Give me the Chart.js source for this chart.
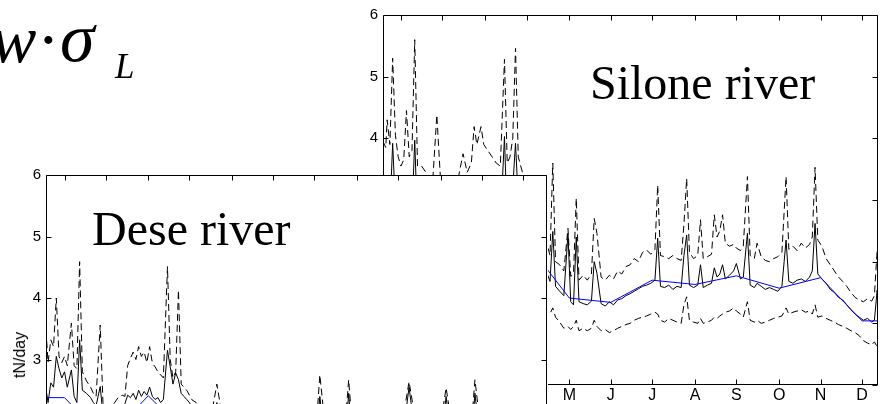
<!DOCTYPE html>
<html><head><meta charset="utf-8">
<script src="https://cdn.jsdelivr.net/npm/chart.js@4.4.1/dist/chart.umd.min.js"></script>
<style>
html,body{margin:0;padding:0;background:#fff;overflow:hidden;width:880px;height:404px}
canvas{position:absolute;left:0;top:0}
.t{position:absolute;white-space:nowrap;line-height:1;color:#000}
.serif{font-family:"Liberation Serif","Times New Roman",serif}
.sans{font-family:"Liberation Sans",Arial,sans-serif}
</style></head><body>
<canvas id="silone" width="880" height="404"></canvas>
<canvas id="dese" width="880" height="404"></canvas>
<div class="t serif" style="left:-9px;top:5px;font-size:68px;font-style:italic">w</div>
<div class="t serif" style="left:37px;top:5px;font-size:68px">·</div>
<div class="t serif" style="left:60px;top:3px;font-size:70px;font-style:italic">σ</div>
<div class="t serif" style="left:115px;top:49px;font-size:35px;font-style:italic">L</div>
<div class="t serif" style="left:590px;top:59px;font-size:48px">Silone river</div>
<div class="t serif" style="left:92px;top:205px;font-size:48px">Dese river</div>
<div class="t sans" style="left:19.5px;top:355px;font-size:16px;transform:translate(-50%,-50%) rotate(-90deg)">tN/day</div>
<script>
// ---- shared axis data ----
const monthTicks = [15,45,76,106,137,167,197,228,258,289,319,349];
const monthLabels = ['J','F','M','A','M','J','J','A','S','O','N','D'];
const yTicks = [0,1,2,3,4,5,6];

// ---- Silone river ----
const siloneDays = [
  2,4,5,7,9,11,13,15,17,19,
  21,23,25,27,30,33,36,38,41,44,
  48,52,56,60,63,66,68,70,73,75,
  78,81,84,87,90,92,94,96,98,100,
  103,106,110,114,118,121,123,125,127,130,
  133,136,138,140,142,144,147,150,153,155,
  157,160,163,166,169,172,175,178,181,184,
  187,190,193,196,199,201,203,206,209,212,
  215,218,220,222,224,227,230,232,234,237,
  240,242,244,246,248,250,253,256,258,261,
  263,266,268,271,273,276,279,282,285,288,
  291,294,296,299,302,305,308,311,313,315,
  317,320,323,326,329,332,335,338,341,344,
  347,350,353,356,358,360,361];
const siloneUpper = [
  3.95,3.85,4.30,3.90,5.30,4.05,3.70,3.55,3.65,4.45,
  3.70,3.80,5.60,3.55,3.55,3.45,3.20,3.30,4.38,3.20,
  3.10,3.20,3.30,3.75,3.45,3.60,4.19,3.90,4.19,3.90,
  3.80,3.70,3.60,3.55,5.28,3.60,3.70,4.00,5.46,3.70,
  3.45,3.20,2.90,2.60,2.35,2.27,2.10,3.60,2.00,1.95,
  1.85,2.54,1.76,1.80,3.03,1.70,1.78,1.70,1.80,2.70,
  2.46,1.75,1.70,1.78,1.72,1.85,1.80,1.92,1.95,2.05,
  2.00,2.15,2.19,2.12,2.20,3.24,2.10,2.08,2.05,2.10,
  2.05,2.02,2.60,3.35,2.15,2.05,2.10,2.68,2.05,2.08,
  2.12,2.76,2.40,2.50,2.76,2.30,2.25,2.28,2.22,2.18,
  2.25,3.38,2.10,2.05,2.30,2.08,2.02,2.00,2.05,2.08,
  2.15,3.38,2.20,2.25,2.18,2.30,2.22,2.28,2.40,3.53,
  2.35,2.25,2.05,1.95,1.85,1.75,1.68,1.60,1.50,1.42,
  1.38,1.35,1.40,1.36,1.45,2.19,1.90];
const siloneLoad = [
  2.90,2.80,3.00,2.80,3.92,2.90,2.70,2.60,2.70,3.20,
  2.70,2.80,3.97,2.60,2.60,2.50,2.30,2.40,3.10,2.30,
  2.20,2.30,2.40,2.70,2.50,2.60,3.00,2.80,3.00,2.80,
  2.70,2.70,2.60,2.60,4.03,2.60,2.90,3.20,3.92,3.00,
  2.50,2.30,2.10,1.95,1.80,1.80,1.68,2.49,1.60,1.52,
  1.45,2.45,1.35,1.30,2.40,1.35,1.32,1.30,1.36,2.00,
  1.81,1.32,1.28,1.35,1.30,1.38,1.40,1.45,1.48,1.52,
  1.56,1.60,1.62,1.65,1.70,2.38,1.60,1.58,1.62,1.55,
  1.60,1.58,2.10,2.43,1.62,1.58,1.62,1.95,1.58,1.62,
  1.65,1.90,1.75,1.80,1.95,1.72,1.78,1.85,1.97,1.72,
  1.75,2.46,1.62,1.58,1.65,1.60,1.55,1.58,1.55,1.52,
  1.60,2.35,1.68,1.65,1.70,1.72,1.68,1.75,1.85,2.62,
  1.80,1.72,1.65,1.55,1.50,1.42,1.38,1.30,1.22,1.15,
  1.10,1.05,1.08,1.02,1.05,1.54,1.20];
const siloneLower = [
  1.90,1.90,2.00,1.90,2.40,1.90,1.80,1.80,1.80,2.10,
  1.80,1.80,2.50,1.70,1.70,1.60,1.50,1.50,1.90,1.50,
  1.50,1.50,1.60,1.70,1.60,1.70,1.90,1.80,1.90,1.80,
  1.80,1.70,1.70,1.70,2.60,1.70,1.80,2.00,2.50,1.80,
  1.60,1.50,1.40,1.30,1.25,1.20,1.16,1.25,1.10,1.02,
  0.92,0.95,0.90,0.95,1.05,0.88,0.92,0.88,0.92,1.05,
  0.95,0.88,0.90,0.85,0.88,0.92,0.95,0.98,1.00,1.05,
  1.08,1.10,1.12,1.15,1.18,1.15,1.05,1.02,1.08,1.05,
  1.02,1.00,1.30,1.43,1.05,1.02,1.00,1.08,1.00,1.02,
  1.05,1.10,1.08,1.12,1.15,1.18,1.20,1.25,1.20,1.15,
  1.10,1.35,1.05,1.02,1.05,1.00,1.02,1.05,1.08,1.10,
  1.12,1.25,1.15,1.18,1.20,1.22,1.18,1.20,1.15,1.30,
  1.10,1.12,1.08,1.05,1.02,0.98,0.95,0.92,0.88,0.85,
  0.80,0.72,0.68,0.65,0.70,0.62,0.65];
const siloneMeanDays = [2,15,45,76,106,137,167,197,228,258,289,319,349,361];
const siloneMean = [2.95,2.95,2.75,2.85,2.31,1.41,1.34,1.70,1.63,1.77,1.57,1.74,1.04,1.04];

// ---- Dese river ----
const deseDays = [
  2,3,5,7,9,11,13,15,17,20,
  22,24,26,28,31,34,36,38,41,43,
  46,50,54,57,59,61,63,65,67,69,
  71,73,75,77,79,81,83,85,87,90,
  92,94,96,98,100,102,104,106,108,111,
  114,118,122,126,130,140,150,160,170,180,
  190,199,201,204,212,220,222,224,232,242,
  252,262,266,270,280,290,293,296,305,312,
  314,317,325,335,345,355,366];
const deseUpper = [
  3.30,2.95,3.32,3.21,4.00,3.05,2.95,3.05,2.90,3.59,
  2.90,2.85,4.59,2.80,2.65,2.55,2.45,2.40,3.56,2.30,
  2.20,2.25,2.38,2.42,2.40,2.90,3.02,3.12,3.00,3.21,
  3.05,3.12,2.95,3.21,2.94,2.88,2.80,2.75,2.70,4.51,
  3.00,2.70,2.80,4.13,2.60,2.55,2.50,2.42,2.34,2.30,
  2.20,2.15,2.10,2.60,2.05,2.00,1.95,1.95,2.00,2.05,
  2.05,2.10,2.75,2.10,2.05,2.10,2.67,2.10,2.05,2.05,
  2.10,2.10,2.64,2.10,2.05,2.10,2.54,2.10,2.05,2.10,
  2.67,2.10,2.00,1.95,1.95,2.00,2.00];
const deseLoad = [
  2.45,2.30,2.62,2.55,3.05,2.85,2.70,2.80,2.55,2.83,
  2.40,2.30,3.32,2.50,2.45,2.38,2.30,2.25,2.56,2.10,
  2.00,2.05,2.15,2.20,2.28,2.42,2.38,2.45,2.35,2.50,
  2.40,2.48,2.42,2.55,2.40,2.35,2.38,2.30,2.35,3.15,
  2.88,2.60,2.78,2.67,2.45,2.40,2.35,2.30,2.20,2.10,
  2.00,1.95,1.90,2.30,1.85,1.80,1.75,1.75,1.78,1.80,
  1.80,1.82,2.40,1.82,1.80,1.82,2.45,1.85,1.80,1.80,
  1.82,1.85,2.55,1.85,1.80,1.82,2.40,1.82,1.80,1.82,
  2.45,1.82,1.78,1.75,1.72,1.75,1.75];
const deseLower = [
  1.60,1.55,1.70,1.70,1.90,1.70,1.60,1.70,1.60,1.70,
  1.50,1.50,2.00,1.50,1.45,1.40,1.40,1.35,1.60,1.30,
  1.30,1.30,1.35,1.40,1.40,1.50,1.50,1.55,1.50,1.60,
  1.55,1.60,1.55,1.60,1.55,1.50,1.50,1.45,1.45,1.90,
  1.60,1.45,1.50,1.80,1.40,1.40,1.35,1.35,1.30,1.30,
  1.25,1.20,1.20,1.40,1.15,1.15,1.10,1.10,1.15,1.15,
  1.15,1.20,1.40,1.20,1.15,1.20,1.40,1.20,1.15,1.15,
  1.20,1.20,1.40,1.20,1.15,1.20,1.35,1.20,1.15,1.20,
  1.40,1.20,1.15,1.10,1.10,1.15,1.15];
const deseMeanDays = [2,15,45,76,106,137,167,197,228,258,289,319,349,366];
const deseMean = [2.38,2.38,1.68,2.41,1.75,1.55,1.45,1.50,1.50,1.55,1.50,1.55,1.60,1.60];

// ---- helpers ----
const pts = (xs, ys) => xs.map((x, i) => ({x, y: ys[i]}));
const FONT = '"Liberation Sans", Arial, sans-serif';

const boxPlugin = {
  id: 'box',
  beforeDraw(chart, args, o) {
    if (o.bg) {
      const ctx = chart.ctx;
      ctx.save(); ctx.fillStyle = '#fff';
      ctx.fillRect(o.bg[0], o.bg[1], o.bg[2], o.bg[3]);
      ctx.restore();
    }
  },
  afterDraw(chart, args, o) {
    const {ctx, chartArea: a, scales: {x, y}} = chart;
    const L = Math.round(a.left) + 0.5, R = Math.round(a.right) - 0.5;
    const T = Math.round(a.top) + 0.5, B = Math.round(a.bottom) - 0.5;
    const tl = 5;
    ctx.save();
    ctx.strokeStyle = '#000'; ctx.lineWidth = 1; ctx.setLineDash([]);
    ctx.beginPath();
    ctx.moveTo(L, T); ctx.lineTo(R, T);
    ctx.moveTo(L, T); ctx.lineTo(L, a.bottom);
    ctx.moveTo(R, T); ctx.lineTo(R, a.bottom);
    if (o.bottom) { ctx.moveTo(L, B); ctx.lineTo(R, B); }
    monthTicks.forEach(v => {
      const px = Math.round(x.getPixelForValue(v)) + 0.5;
      ctx.moveTo(px, T); ctx.lineTo(px, T + tl);
      if (o.bottom) { ctx.moveTo(px, B); ctx.lineTo(px, B - tl); }
    });
    yTicks.forEach(v => {
      const py = Math.round(y.getPixelForValue(v)) + 0.5;
      if (py < a.top - 1 || py > a.bottom + 1) return;
      ctx.moveTo(L, py); ctx.lineTo(L + tl, py);
      ctx.moveTo(R, py); ctx.lineTo(R - tl, py);
    });
    ctx.stroke();
    ctx.restore();
  }
};

function makeDatasets(days, upper, load, lower, mdays, mean) {
  const dash = [7, 4];
  return [
    {data: pts(mdays, mean), borderColor: '#0000ff', borderWidth: 1},
    {data: pts(days, load), borderColor: '#000', borderWidth: 1},
    {data: pts(days, upper), borderColor: '#000', borderWidth: 1, borderDash: dash},
    {data: pts(days, lower), borderColor: '#000', borderWidth: 1, borderDash: dash}
  ].map(d => Object.assign(d, {pointRadius: 0, tension: 0, fill: false}));
}
const noPad = s => { s.paddingTop = 0; s.paddingBottom = 0; s.paddingLeft = 0; s.paddingRight = 0; };

// ---- Silone chart (behind) ----
new Chart(document.getElementById('silone'), {
  type: 'line',
  data: {datasets: makeDatasets(siloneDays, siloneUpper, siloneLoad, siloneLower, siloneMeanDays, siloneMean)},
  options: {
    responsive: false, animation: false, events: [],
    layout: {padding: {left: 0, top: 15, right: 2, bottom: 0}},
    plugins: {legend: {display: false}, tooltip: {enabled: false}, box: {bottom: true}},
    scales: {
      x: {type: 'linear', min: 2, max: 360.6,
          grid: {display: false, drawTicks: false}, border: {display: false},
          afterBuildTicks: s => { s.ticks = monthTicks.map(v => ({value: v})); },
          afterFit: s => { s.height = 19; noPad(s); },
          ticks: {autoSkip: false, maxRotation: 0, padding: 3, color: '#000',
                  font: {family: FONT, size: 16, lineHeight: 1},
                  callback: v => monthLabels[monthTicks.indexOf(v)]}},
      y: {type: 'linear', min: 0, max: 6,
          grid: {display: false, drawTicks: false}, border: {display: false},
          afterBuildTicks: s => { s.ticks = yTicks.map(v => ({value: v})); },
          afterFit: s => { s.width = 383; noPad(s); },
          ticks: {padding: 5, color: '#000', font: {family: FONT, size: 15}}}
    }
  },
  plugins: [boxPlugin]
});

// ---- Dese chart (front) ----
new Chart(document.getElementById('dese'), {
  type: 'line',
  data: {datasets: makeDatasets(deseDays, deseUpper, deseLoad, deseLower, deseMeanDays, deseMean)},
  options: {
    responsive: false, animation: false, events: [],
    layout: {padding: {left: 0, top: 175, right: 333, bottom: 0}},
    plugins: {legend: {display: false}, tooltip: {enabled: false}, box: {bottom: false, bg: [0, 175, 548, 229]}},
    scales: {
      x: {type: 'linear', display: false, min: 1.5, max: 366.5},
      y: {type: 'linear', min: 6 - 229 / 61.5, max: 6,
          grid: {display: false, drawTicks: false}, border: {display: false},
          afterBuildTicks: s => { s.ticks = [3, 4, 5, 6].map(v => ({value: v})); },
          afterFit: s => { s.width = 46; noPad(s); },
          ticks: {padding: 5, color: '#000', font: {family: FONT, size: 15}}}
    }
  },
  plugins: [boxPlugin]
});
</script>
</body></html>
